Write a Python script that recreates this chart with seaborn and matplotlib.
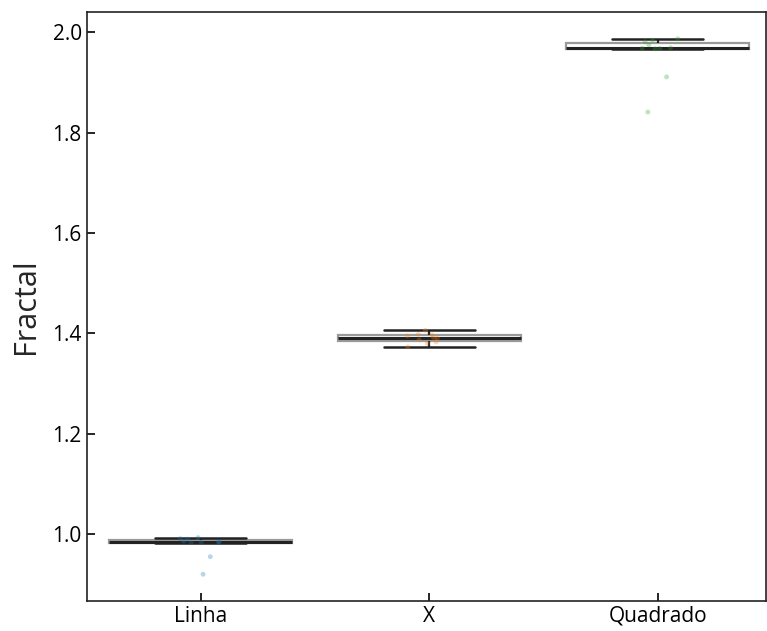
import numpy as np
import pandas as pd
import matplotlib
matplotlib.use("Agg")
import matplotlib.pyplot as plt
import seaborn as sns

categories = ["Linha", "X", "Quadrado"]
linha_vals = [0.920, 0.955, 0.983, 0.983, 0.984, 0.984, 0.986, 0.990, 0.991, 0.993]
x_vals = [1.373, 1.380, 1.383, 1.387, 1.390, 1.392, 1.395, 1.397, 1.398, 1.406]
quadrado_vals = [1.841, 1.911, 1.967, 1.968, 1.968, 1.969, 1.975, 1.981, 1.984, 1.987]
y_label = "Fractal"

df = pd.DataFrame({
    "Forma": ["Linha"] * len(linha_vals) + ["X"] * len(x_vals) + ["Quadrado"] * len(quadrado_vals),
    "Fractal": linha_vals + x_vals + quadrado_vals,
})

sns.set_style("white")
plt.rcParams["font.family"] = ["Open Sans", "DejaVu Sans"]

fig = plt.figure(figsize=(7.67, 6.31), dpi=100)
ax = fig.add_axes([0.1128, 0.0475, 0.886, 0.9335])

sns.boxplot(data=df, x="Forma", y="Fractal", order=categories, ax=ax,
            width=0.8, showfliers=False,
            boxprops=dict(facecolor="white", edgecolor="#9a9a9a", linewidth=1.6),
            medianprops=dict(color="#222222", linewidth=2.2),
            whiskerprops=dict(color="#222222", linewidth=1.6),
            capprops=dict(color="#222222", linewidth=1.8))

np.random.seed(3)
sns.stripplot(data=df, x="Forma", y="Fractal", order=categories, hue="Forma",
              hue_order=categories, palette="tab10", alpha=0.3, size=3.5,
              jitter=0.1, legend=False, ax=ax, zorder=5)

ax.set_xlabel("")
ax.set_ylabel(y_label, fontsize=22, labelpad=8)
ax.tick_params(axis="both", direction="in", length=6, width=1.2, labelsize=15,
               left=True, bottom=True, top=False, right=False, colors="black")
for s in ax.spines.values():
    s.set_color("#222222")
    s.set_linewidth(1.2)
ax.set_xlim(-0.5, 2.474)
ax.set_yticks([1.0, 1.2, 1.4, 1.6, 1.8, 2.0])

fig.savefig("out.png", dpi=100)
